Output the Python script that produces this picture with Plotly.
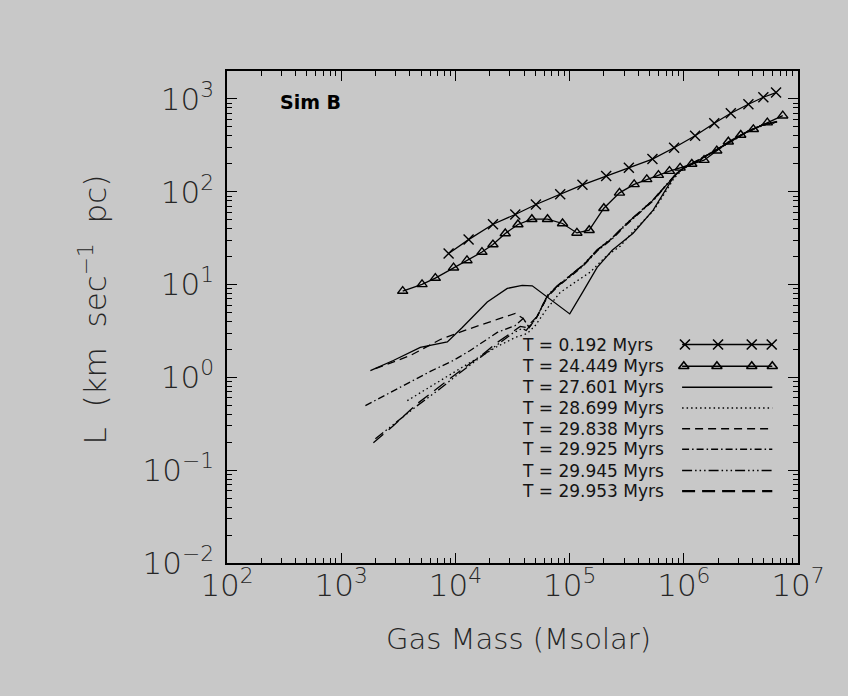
import plotly.graph_objects as go

# ---- Simulation B: specific angular momentum L versus gas mass ----
# T = 0.192 Myrs
mass_t0192 = [8721, 13050, 21340, 33430, 50700, 82760, 129600, 209100, 330300,
              531400, 822300, 1.256e6, 1.848e6, 2.580e6, 3.679e6, 4.973e6, 6.425e6]
L_t0192 = [21.6, 30.5, 44.7, 56.9, 72.9, 94.2, 118.8, 147.4, 181.2,
           225, 298, 401, 547, 701, 877, 1043, 1170]

# T = 24.449 Myrs
mass_t24449 = [3455, 5103, 6671, 9634, 12630, 17090, 21320, 27320, 35290, 46740,
               64060, 86730, 115900, 148400, 199500, 273400, 367600, 474100, 599700,
               748900, 928500, 1.175e6, 1.504e6, 1.944e6, 2.455e6, 3.152e6, 4.066e6,
               5.389e6, 7.353e6]
L_t24449 = [8.51, 10.05, 11.75, 15.2, 18.2, 22.4, 27.0, 35.5, 44.4, 50.6,
            50.6, 45.5, 36.0, 38.5, 66.5, 97.3, 120, 136, 151,
            167, 181, 199, 219, 277, 346, 409, 471,
            555, 660]

# T = 27.601 Myrs
mass_t27601 = [1801, 2860, 4929, 8499, 11490, 19010, 28460, 38450, 47100, 67610,
               100300, 131400, 174300, 236000, 360000, 539100, 672700, 822200,
               1005000, 1.183e6, 1.805e6, 2.542e6, 3.582e6, 4.944e6, 6.557e6]
L_t27601 = [1.18, 1.52, 2.10, 2.41, 3.45, 6.50, 9.10, 9.80, 9.70, 6.92,
            4.83, 8.45, 15.3, 23.4, 35.7, 63.3, 99.1, 147,
            184, 199, 268, 343, 441, 524, 565]

# T = 28.699 Myrs
mass_t28699 = [3792, 7837, 13490, 23270, 33420, 42620, 50050, 63620, 82830, 111900,
               151400, 209100, 277100, 382600, 539100, 672700, 822200, 1005000,
               1.183e6, 1.805e6, 2.542e6, 3.582e6, 4.944e6, 6.557e6]
L_t28699 = [0.561, 0.97, 1.45, 2.15, 2.69, 2.97, 3.62, 5.53, 8.24, 10.6,
            13.6, 20.2, 25.9, 40.5, 61.8, 94.2, 140, 180,
            197, 265, 340, 438, 520, 560]

# T = 29.838 Myrs
mass_t29838 = [1992, 4026, 7375, 12720, 23270, 33420, 39240, 44320, 52050, 63620,
               77940, 95260, 131400, 174300, 236000, 306600, 414300, 539100, 714900,
               873700, 1005000, 1.183e6, 1.805e6, 2.542e6, 3.582e6, 4.944e6, 6.557e6]
L_t29838 = [1.24, 1.72, 2.56, 3.28, 4.21, 4.89, 4.31, 3.45, 4.54, 7.46,
            9.57, 11.7, 16.1, 23.4, 31.5, 43.6, 60.2, 81.1, 121,
            159, 180, 201, 270, 346, 445, 528, 570]

# T = 29.925 Myrs
mass_t29925 = [1629, 3296, 6030, 9587, 13490, 23270, 33420, 39240, 44320, 52050,
               63620, 77940, 95260, 131400, 174300, 236000, 306600, 414300, 539100,
               714900, 873700, 1005000, 1.183e6, 1.805e6, 2.542e6, 3.582e6, 4.944e6,
               6.557e6]
L_t29925 = [0.496, 0.776, 1.16, 1.52, 1.95, 3.05, 3.62, 4.31, 3.45, 4.54,
            7.3, 9.4, 11.5, 15.8, 23.0, 31.0, 43.0, 59.5, 80.0,
            120, 158, 180, 200, 269, 344, 443, 526,
            567]

# T = 29.945 Myrs
mass_t29945 = [1992, 2983, 4638, 7375, 11030, 16520, 23270, 31450, 38450, 41700,
               52050, 63620, 77940, 95260, 131400, 174300, 236000, 306600, 414300,
               539100, 714900, 873700, 1005000, 1.183e6, 1.805e6, 2.542e6, 3.582e6,
               4.944e6, 6.557e6]
L_t29945 = [0.218, 0.325, 0.496, 0.757, 1.13, 1.64, 2.26, 2.97, 3.37, 3.20,
            4.54, 7.6, 9.7, 11.9, 16.3, 23.7, 31.9, 44.2, 61.0,
            82.0, 122, 160, 181, 202, 271, 347, 446,
            530, 572]

# T = 29.953 Myrs
mass_t29953 = [1914, 2860, 4638, 7375, 11030, 16520, 23270, 30250, 36960, 41700,
               52050, 63620, 77940, 95260, 131400, 174300, 236000, 306600, 414300,
               539100, 714900, 873700, 1005000, 1.183e6, 1.805e6, 2.542e6, 3.582e6,
               4.944e6, 6.557e6]
L_t29953 = [0.198, 0.301, 0.521, 0.815, 1.18, 1.68, 2.38, 2.97, 3.54, 3.45,
            4.54, 7.5, 9.6, 11.8, 16.2, 23.5, 31.7, 43.9, 60.6,
            81.5, 121, 159, 180, 200, 270, 345, 444,
            527, 569]

series_labels = ["T = 0.192 Myrs", "T = 24.449 Myrs", "T = 27.601 Myrs",
                 "T = 28.699 Myrs", "T = 29.838 Myrs", "T = 29.925 Myrs",
                 "T = 29.945 Myrs", "T = 29.953 Myrs"]

# axis decades
x_exponents = [2, 3, 4, 5, 6, 7]
y_exponents = [-2, -1, 0, 1, 2, 3]

BG = "#c8c8c8"
INK = "black"
LABEL_INK = "#262626"
FONT = "DejaVu Sans"

# line styles: (dash, symbol)
styles = [
    ("solid", "x-thin-open"),
    ("solid", "triangle-up-open"),
    ("solid", None),
    ("1.5px,3px", None),
    ("8px,5px", None),
    ("7px,3px,1.5px,3px", None),
    ("10px,3px,1.5px,3px,1.5px,3px,1.5px,3px", None),
    ("13px,7px", None),
]

data = [
    (mass_t0192, L_t0192), (mass_t24449, L_t24449), (mass_t27601, L_t27601),
    (mass_t28699, L_t28699), (mass_t29838, L_t29838), (mass_t29925, L_t29925),
    (mass_t29945, L_t29945), (mass_t29953, L_t29953),
]

fig = go.Figure()

for (m, L), (dash, sym), name in zip(data, styles, series_labels):
    mode = "lines+markers" if sym else "lines"
    fig.add_trace(go.Scatter(
        x=m, y=L, mode=mode, name=name, showlegend=False,
        line=dict(color=INK, width=1.3, dash=dash),
        marker=dict(symbol=sym, size=10 if sym == "x-thin-open" else 9,
                    color=INK, line=dict(color=INK, width=1.4)) if sym else None,
    ))

# ---- legend block inside the axes (text on the left, line key on the right) ----
row_y = [0.444, 0.400, 0.357, 0.315, 0.273, 0.231, 0.188, 0.146]
key_x0, key_x1 = 0.797, 0.955
key_marks = {0: [0.802, 0.860, 0.919, 0.954], 1: [0.800, 0.858, 0.919, 0.955]}

for i, ((dash, sym), name) in enumerate(zip(styles, series_labels)):
    fig.add_trace(go.Scatter(
        x=[key_x0, key_x1], y=[row_y[i], row_y[i]], mode="lines",
        xaxis="x2", yaxis="y2", showlegend=False, hoverinfo="skip",
        line=dict(color=INK, width=1.5 if i < 7 else 2.2, dash=dash),
    ))
    if sym:
        xs = key_marks[i]
        fig.add_trace(go.Scatter(
            x=xs, y=[row_y[i]] * len(xs), mode="markers",
            xaxis="x2", yaxis="y2", showlegend=False, hoverinfo="skip",
            marker=dict(symbol=sym, size=10 if i == 0 else 9, color=INK,
                        line=dict(color=INK, width=1.6)),
        ))
    fig.add_annotation(
        x=0.5135, y=row_y[i], xref="paper", yref="paper", text=name,
        showarrow=False, xanchor="left", yanchor="middle",
        font=dict(family=FONT, size=17, color="#141414"),
    )

fig.add_annotation(
    x=0.089, y=0.938, xref="paper", yref="paper", text="Sim B",
    showarrow=False, xanchor="left", yanchor="middle",
    font=dict(family=FONT, size=19, color=INK, weight="bold"),
)

# axis titles
fig.add_annotation(
    x=-0.235, y=0.515, xref="paper", yref="paper",
    text="L  (km  sec<sup>−1</sup>  pc)", textangle=-90,
    showarrow=False, xanchor="center", yanchor="middle",
    font=dict(family=FONT, size=31, color=LABEL_INK, weight=200),
)
fig.add_annotation(
    x=0.51, y=-0.155, xref="paper", yref="paper",
    text="Gas Mass (Msolar)",
    showarrow=False, xanchor="center", yanchor="middle",
    font=dict(family=FONT, size=29, color=LABEL_INK, weight=200),
)


def power_labels(exps):
    return ["10<sup>%s</sup>" % (str(e).replace("-", "−")) for e in exps]


def minor_values(exps, top):
    vals = []
    for e in exps:
        for k in range(2, 10):
            v = k * 10.0 ** e
            if v < top:
                vals.append(v)
    return vals


axis_common = dict(
    type="log", showline=True, linecolor=INK, linewidth=1.5, mirror="allticks",
    ticks="inside", ticklen=10, tickwidth=1.2, tickcolor=INK,
    showgrid=False, zeroline=False, tickmode="array",
    tickfont=dict(family=FONT, size=31, color=LABEL_INK, weight=200),
)

# minor tick axes (2..9 within each decade), drawn on all four sides
minor_common = dict(
    type="log", showline=False, mirror="allticks", ticks="inside", ticklen=5,
    tickwidth=1, tickcolor=INK, showgrid=False, zeroline=False,
    showticklabels=False, tickmode="array",
)

fig.update_layout(
    width=848, height=696,
    margin=dict(l=227, r=50, t=71, b=133),
    paper_bgcolor=BG, plot_bgcolor=BG,
    showlegend=False,
    xaxis=dict(
        range=[2, 7], ticklabelstandoff=-6,
        tickvals=[10.0 ** e for e in x_exponents], ticktext=power_labels(x_exponents),
        **axis_common),
    yaxis=dict(
        range=[-2, 3.30103], ticklabelstandoff=5,
        tickvals=[10.0 ** e for e in y_exponents], ticktext=power_labels(y_exponents),
        **axis_common),
    xaxis2=dict(overlaying="x", anchor="y2", range=[0, 1], visible=False),
    yaxis2=dict(overlaying="y", anchor="x2", range=[0, 1], visible=False),
    xaxis3=dict(overlaying="x", anchor="y", range=[2, 7],
                tickvals=minor_values(x_exponents, 1e7), **minor_common),
    yaxis3=dict(overlaying="y", anchor="x", range=[-2, 3.30103],
                tickvals=minor_values(y_exponents, 2000), **minor_common),
)

# invisible trace that activates the minor-tick axes
fig.add_trace(go.Scatter(x=[1e3], y=[1], xaxis="x3", yaxis="y3", mode="markers",
                         marker=dict(opacity=0), showlegend=False, hoverinfo="skip"))

fig.write_html("out.html")
